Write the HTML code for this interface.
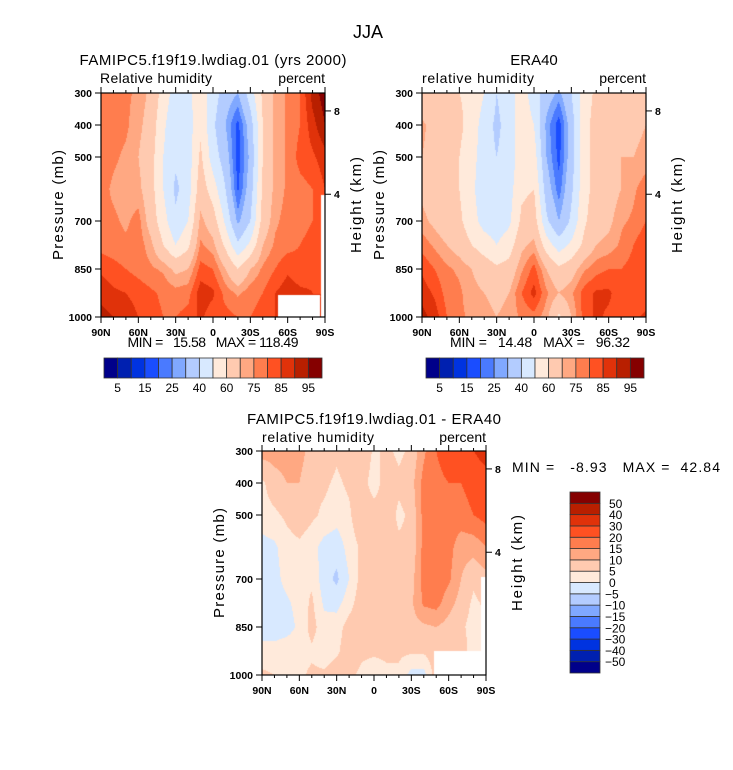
<!DOCTYPE html>
<html><head><meta charset="utf-8">
<style>
html,body{margin:0;padding:0;background:#fff;width:733px;height:770px;overflow:hidden}
#wrap{position:relative;width:733px;height:770px}
canvas{position:absolute;image-rendering:auto}
svg{position:absolute;left:0;top:0}
text{font-family:"Liberation Sans",Arial,sans-serif;fill:#000}
</style></head>
<body>
<div id="wrap">
<canvas id="c1" width="224" height="224" style="left:101px;top:93px"></canvas>
<canvas id="c2" width="224" height="224" style="left:422px;top:93px"></canvas>
<canvas id="c3" width="224" height="224" style="left:262px;top:451px"></canvas>
<svg id="svg" width="733" height="770" xmlns="http://www.w3.org/2000/svg">
<text x="368" y="38" font-size="18" text-anchor="middle">JJA</text>
<text x="213" y="65" font-size="15" text-anchor="middle" textLength="267">FAMIPC5.f19f19.lwdiag.01 (yrs 2000)</text>
<text x="100" y="83" font-size="14" textLength="112">Relative humidity</text>
<text x="325" y="83" font-size="14" text-anchor="end">percent</text>
<text x="534" y="65" font-size="15" text-anchor="middle">ERA40</text>
<text x="422" y="83" font-size="14" textLength="112">relative humidity</text>
<text x="646" y="83" font-size="14" text-anchor="end">percent</text>
<text x="374" y="424" font-size="15" text-anchor="middle" textLength="254">FAMIPC5.f19f19.lwdiag.01 - ERA40</text>
<text x="262" y="442" font-size="14" textLength="112">relative humidity</text>
<text x="486" y="442" font-size="14" text-anchor="end">percent</text>
<text x="213" y="347" font-size="14" text-anchor="middle" textLength="171" xml:space="preserve">MIN =   15.58   MAX = 118.49</text>
<text x="540" y="347" font-size="14" text-anchor="middle" textLength="180" xml:space="preserve">MIN =   14.48   MAX =   96.32</text>
<text x="512" y="472" font-size="14" textLength="208" xml:space="preserve">MIN =   -8.93   MAX =  42.84</text>
</svg>
</div>
<script>
// ---- data ----
const lats = [90,80,70,60,50,40,30,20,10,0,-10,-20,-30,-40,-50,-60,-70,-80,-90];
const latTicks = [90,60,30,0,-30,-60,-90];
const latTickLabels = ["90N","60N","30N","0","30S","60S","90S"];
const plevs = [300,400,500,600,700,775,850,925,1000];
const pTicks = [300,400,500,700,850,1000];
const hTicks = [4,8];
const rhLevels = [5,10,15,20,25,30,40,50,60,70,75,80,85,90,95];
const rhLabels = ["5","15","25","40","60","75","85","95"];
const diffLevels = [-50,-40,-30,-20,-15,-10,-5,0,5,10,15,20,30,40,50];
const colors = ['#00008a','#0020b0','#0033e0','#1a4dff','#4a7aff','#80a8ff','#b3ccff','#d8e9ff','#ffeadb','#ffcab0','#ffa882','#ff7d4e','#ff5122','#e0320a','#b81f00','#850000'];

const model = [
[80,78,76,74,68,56,45,48,55,45,35,30,45,62,72,76,80,92,98],
[79,77,76,72,66,52,42,45,58,42,30,18,35,60,72,76,80,88,95],
[78,76,74,70,64,50,42,45,62,45,35,17,32,60,72,76,82,84,88],
[77,74,72,72,64,50,38,45,66,55,40,19,35,62,72,76,78,80,85],
[76,76,74,77,66,54,42,50,72,65,48,28,40,64,74,77,78,80,82],
[78,77,76,78,72,60,50,58,76,72,58,42,52,70,76,78,80,82,82],
[84,82,80,78,76,74,68,70,82,80,70,60,70,76,80,84,82,84,84],
[88,86,85,83,81,79,77,78,88,86,78,74,78,80,85,88,86,85,85],
[92,90,88,85,82,80,80,82,86,82,82,80,80,82,85,88,86,85,85]];
const era = [
[60,62,62,60,58,50,40,45,55,45,35,28,40,55,62,65,66,64,62],
[72,66,64,62,56,45,38,44,56,50,28,17,35,56,64,66,68,68,70],
[70,66,64,60,54,44,40,44,56,55,30,18,35,56,64,66,70,70,72],
[68,65,62,60,52,44,42,46,58,60,35,22,38,56,64,66,70,74,78],
[72,68,64,62,54,46,45,48,62,65,42,30,42,58,66,68,74,76,80],
[78,74,70,66,60,55,50,55,68,72,55,45,52,62,70,72,76,80,84],
[84,80,76,74,70,66,62,64,74,82,70,62,66,74,78,80,80,82,84],
[88,84,78,76,72,70,68,70,80,87,76,70,74,82,86,86,82,80,82],
[92,88,80,76,74,72,70,72,76,78,72,58,70,82,86,84,82,84,86]];
const diff = [
[12,12,12,12,8,8,6,8,10,4,6,4,6,14,20,24,26,30,35],
[4,8,10,10,6,6,4,6,8,2,8,6,8,17,18,20,20,22,25],
[3,4,6,8,6,4,2,4,10,8,8,4,6,17,18,18,18,20,22],
[-2,-1,3,4,2,-2,-3,2,6,6,6,6,6,17,19,17,12,12,15],
[-2,-2,2,4,4,-3,-6,0,7,7,6,8,8,17,19,16,10,6,8],
[-3,-3,-1,2,6,-1,-2,3,8,8,10,9,9,16,17,12,8,4,6],
[-3,-3,-2,1,7,2,3,7,8,7,10,8,8,9,10,8,6,3,4],
[2,2,3,3,4,2,4,8,6,6,6,6,6,6,8,6,8,2,4],
[6,5,5,4,6,6,8,6,4,2,4,4,-2,-2,8,6,8,2,4]];
// missing-data regions: [latFrom, latTo, pFrom, pTo]
const mask1 = [[-52,-86,932,1000],[-87,-90,620,1000]];
const mask3 = [[-48,-86,925,1000],[-86,-90,695,1000]];

const NS = "http://www.w3.org/2000/svg";
const svg = document.getElementById('svg');
function el(tag, attrs, txt){
  const e = document.createElementNS(NS, tag);
  for (const k in attrs) e.setAttribute(k, attrs[k]);
  if (txt !== undefined) e.textContent = txt;
  svg.appendChild(e); return e;
}
function hToP(h){ return 1013.25*Math.pow(1-2.25577e-5*h*1000,5.25588); }

function sample(data, lat, p){
  let fi = (90-lat)/10; fi = Math.max(0, Math.min(18, fi));
  const i0 = Math.min(17, Math.floor(fi)), tx = fi - i0;
  let j0 = 0;
  while (j0 < plevs.length-2 && p > plevs[j0+1]) j0++;
  let ty = (p - plevs[j0])/(plevs[j0+1]-plevs[j0]); ty = Math.max(0, Math.min(1, ty));
  const a = data[j0][i0], b = data[j0][i0+1], c = data[j0+1][i0], d = data[j0+1][i0+1];
  return (a*(1-tx)+b*tx)*(1-ty) + (c*(1-tx)+d*tx)*ty;
}
function levelOf(v, levels){ let k=0; while(k<levels.length && v>=levels[k]) k++; return k; }

function panel(cid, x0, y0, w, h, data, levels, masks, name){
  const cv = document.getElementById(cid), ctx = cv.getContext('2d');
  const xOf = lat => Math.round((90-lat)/180*w), yOf = p => Math.round((p-300)/700*h);
  for (let py=0; py<h; py++){
    const p = 300 + (py+0.5)/h*700;
    for (let px=0; px<w; px++){
      const lat = 90 - (px+0.5)/w*180;
      ctx.fillStyle = colors[levelOf(sample(data, lat, p), levels)];
      ctx.fillRect(px, py, 1, 1);
    }
  }
  ctx.fillStyle = '#fff';
  masks.forEach(m => { ctx.fillRect(xOf(m[0]), yOf(m[2]), xOf(m[1])-xOf(m[0]), yOf(m[3])-yOf(m[2])+1); });
  const fr = el('rect', {x:x0, y:y0, width:w, height:h, fill:'none', stroke:'#000', 'stroke-width':1.2});
  
  
  const X = lat => x0 + (90-lat)/180*w, Y = p => y0 + (p-300)/700*h;
  for (let lat=90; lat>=-90; lat-=10){
    const major = lat % 30 === 0, L = major ? 6 : 3;
    const t1 = el('line', {x1:X(lat), x2:X(lat), y1:y0+h, y2:y0+h+L, stroke:'#000', 'stroke-width':1});
    
    
    const t2 = el('line', {x1:X(lat), x2:X(lat), y1:y0, y2:y0-L, stroke:'#000', 'stroke-width':1});
    
    
  }
  latTicks.forEach((lat, i) => {
    const t = el('text', {x:X(lat), y:y0+h+19, 'font-size':10.5, 'text-anchor':'middle', 'font-weight':'bold'}, latTickLabels[i]);
    
    
  });
  pTicks.forEach(p => {
    const l = el('line', {x1:x0-6, x2:x0, y1:Y(p), y2:Y(p), stroke:'#000', 'stroke-width':1});
    
    
    const t = el('text', {x:x0-9, y:Y(p)+4, 'font-size':10.5, 'text-anchor':'end', 'font-weight':'bold'}, String(p));
    
    
  });
  hTicks.forEach(hk => {
    const yy = Y(hToP(hk));
    const l = el('line', {x1:x0+w, x2:x0+w+6, y1:yy, y2:yy, stroke:'#000', 'stroke-width':1});
    
    
    const t = el('text', {x:x0+w+9, y:yy+4, 'font-size':10.5, 'font-weight':'bold'}, String(hk));
    
    
  });
  const cy = y0 + h/2;
  const yt = el('text', {x:0, y:0, 'font-size':15, 'text-anchor':'middle', transform:`translate(${x0-38},${cy}) rotate(-90)`, textLength:110}, 'Pressure (mb)');
  
  
  const ht = el('text', {x:0, y:0, 'font-size':15, 'text-anchor':'middle', transform:`translate(${x0+w+36},${cy}) rotate(-90)`, textLength:96}, 'Height (km)');
  
  
}

function hColorbar(x0, y0, w, h, name){
  const bw = w/colors.length;
  colors.forEach((c, i) => {
    const r = el('rect', {x:x0+i*bw, y:y0, width:bw, height:h, fill:c, stroke:'#333', 'stroke-width':0.8});
    
    
  });
  rhLabels.forEach((s, i) => {
    const t = el('text', {x:x0+(2*i+1)*bw, y:y0+34, 'font-size':12, 'text-anchor':'middle'}, s);
    
    
  });
}
function vColorbar(x0, y0, w, h, name){
  const bh = h/colors.length;
  colors.forEach((c, i) => {
    const r = el('rect', {x:x0, y:y0+(colors.length-1-i)*bh, width:w, height:bh, fill:c, stroke:'#333', 'stroke-width':0.8});
    
    
  });
  diffLevels.forEach((v, i) => {
    const yy = y0 + (colors.length-1-i)*bh;
    const t = el('text', {x: v<0 ? x0+w+5 : x0+w+9, y:yy+4.5, 'font-size':12}, v<0 ? '\u2212'+(-v) : String(v));
    
    
  });
}

panel('c1', 101, 93, 224, 224, model, rhLevels, mask1, 'model');
panel('c2', 422, 93, 224, 224, era, rhLevels, [], 'era40');
panel('c3', 262, 451, 224, 224, diff, diffLevels, mask3, 'difference');
hColorbar(104, 358, 218, 20, 'model-colorbar');
hColorbar(426, 358, 218, 20, 'era40-colorbar');
vColorbar(570, 492, 30, 181, 'difference-colorbar');
</script>
</body></html>
